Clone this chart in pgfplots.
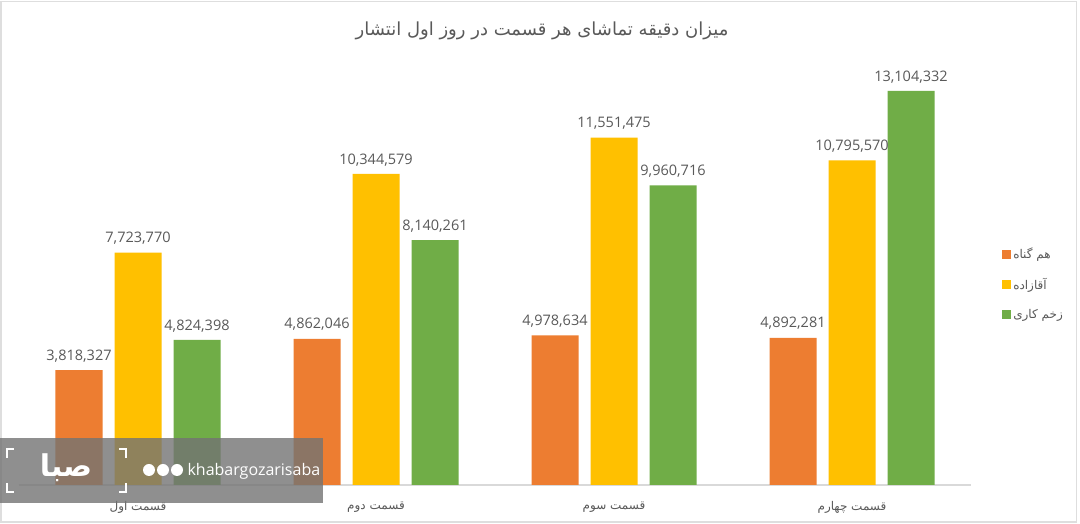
\documentclass[border=0pt]{standalone}
\usepackage{pgfplots}
\pgfplotsset{compat=1.18}
\usepackage{fontspec}
\setmainfont{Open Sans}
\newfontfamily\arabicfont[Script=Arabic]{DejaVu Sans}
\TeXXeTstate=1
\definecolor{cOr}{HTML}{ED7D31}
\definecolor{cYe}{HTML}{FFC000}
\definecolor{cGr}{HTML}{70AD47}
\definecolor{txt}{HTML}{595959}
\definecolor{axl}{HTML}{D9D9D9}
\begin{document}
\begin{tikzpicture}[x=1pt,y=1pt]
\useasboundingbox (0,0) rectangle (1080,524);
\fill[white] (0,0) rectangle (1080,524);
\draw[line width=1.5pt, draw=black!13] (1,2) rectangle (1076.5,522.5);
\node[text=txt, font=\fontsize{18}{21}\selectfont\arabicfont] at (542,493) {\beginR میزان دقیقه تماشای هر قسمت در روز اول انتشار\endR};
\begin{axis}[
  at={(19pt,39pt)}, anchor=south west,
  scale only axis, width=952pt, height=421pt,
  xmin=-0.5, xmax=3.5, ymin=0, ymax=14000000,
  axis x line=bottom, axis y line=none,
  x axis line style={-, draw=axl, line width=1.2pt},
  xtick={0,1,2,3},
  xticklabels={{\beginR قسمت اول\endR},{\beginR قسمت دوم\endR},{\beginR قسمت سوم\endR},{\beginR قسمت چهارم\endR}},
  xticklabel style={text=txt, font=\fontsize{12}{14}\selectfont\arabicfont, yshift=-13pt},
  major tick length=0pt,
  ybar=12pt, bar width=47pt,
  clip=false,
  point meta=explicit symbolic,
  nodes near coords={\pgfplotspointmeta},
  every node near coord/.append style={text=txt, font=\fontsize{14.5}{16}\selectfont, yshift=4.5pt},
  legend style={at={(1.0295,0.573)}, anchor=north west, draw=none, fill=none,
    font=\fontsize{12}{14}\selectfont\arabicfont, text=txt, row sep=14pt,
    /tikz/every even column/.append style={column sep=2pt}},
  legend cell align=left,
  legend image code/.code={\fill[#1] (0pt,-4.5pt) rectangle (9pt,4.5pt);},
]
\addplot[draw=none, fill=cOr] coordinates {(0,3818327)[3,818,327] (1,4862046)[4,862,046] (2,4978634)[4,978,634] (3,4892281)[4,892,281]};
\addplot[draw=none, fill=cYe] coordinates {(0,7723770)[7,723,770] (1,10344579)[10,344,579] (2,11551475)[11,551,475] (3,10795570)[10,795,570]};
\addplot[draw=none, fill=cGr] coordinates {(0,4824398)[4,824,398] (1,8140261)[8,140,261] (2,9960716)[9,960,716] (3,13104332)[13,104,332]};
\legend{{\beginR هم گناه\endR},{\beginR آقازاده\endR},{\beginR زخم کاری\endR}}
\end{axis}
% watermark overlay
\fill[black!55, opacity=0.8] (0,21) rectangle (323,86);
\begin{scope}[white, line width=1.5pt]
\draw (7,66) -- (7,75) -- (14,75);
\draw (119,75) -- (126,75) -- (126,66);
\draw (7,41) -- (7,32) -- (14,32);
\draw (119,32) -- (126,32) -- (126,41);
\end{scope}
\node[white, font=\fontsize{30}{32}\selectfont\bfseries\arabicfont] at (66,56) {\beginR صبا\endR};
\fill[white] (149,54) circle (6pt) (163,54) circle (6pt) (177,54) circle (6pt);
\node[white, font=\fontsize{16}{18}\selectfont, anchor=west] at (184,53) {khabargozarisaba};
\end{tikzpicture}
\end{document}
